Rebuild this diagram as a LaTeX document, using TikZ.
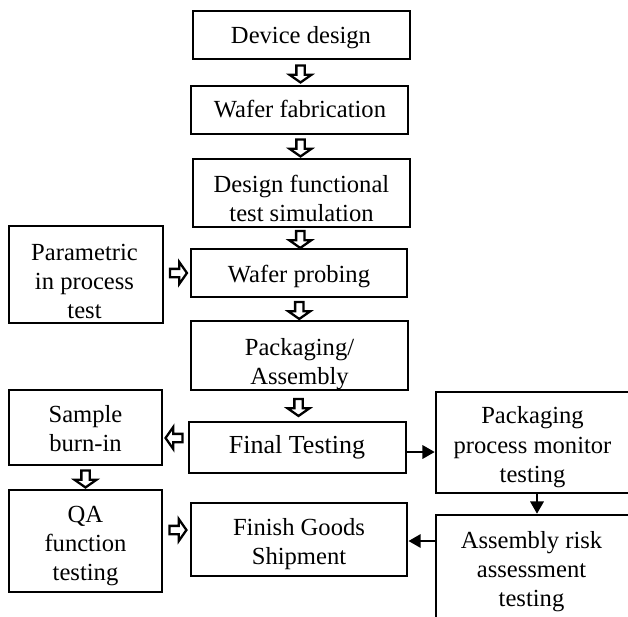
\documentclass[tikz,border=0pt]{standalone}
\usepackage{fontspec}
\setmainfont{Liberation Serif}
\usetikzlibrary{shapes.arrows,arrows.meta,calc}
\newcommand\fst{\rule{0pt}{10.5pt}}
\begin{document}
\begin{tikzpicture}[x=0.02cm,y=-0.02cm,
  frame/.style={draw,line width=1.6pt,rectangle,inner sep=0pt},
  sz/.style 2 args={minimum width=#1*0.02cm,minimum height=#2*0.02cm},
  txt/.style={align=center,inner sep=0pt,anchor=north,
    font=\fontsize{14}{16.7}\selectfont},
  barrow/.style={single arrow,draw,line width=1.3pt,fill=white,inner sep=0.06cm,
    minimum width=0.39cm,minimum height=0.34cm,single arrow head extend=0.137cm,
    single arrow tip angle=110},
  sarrow/.style={line width=1.5pt,-{Triangle[length=7pt,width=7.5pt]}}]
\useasboundingbox (0,0) rectangle (628,616);
% boxes
\node[frame,sz={217}{48}] (dd) at (301.5,35) {};
\node[frame,sz={217}{48}] (wf) at (299.5,110) {};
\node[frame,sz={217}{68}] (dfts) at (301.5,193) {};
\node[frame,sz={216}{48}] (wp) at (299,273) {};
\node[frame,sz={217}{69}] (pa) at (299.5,355.5) {};
\node[frame,sz={217}{51}] (ft) at (297.5,447.5) {};
\node[frame,sz={216}{73}] (fg) at (299,539.5) {};
\node[frame,sz={154}{97}] (pt) at (86,274.5) {};
\node[frame,sz={153}{75}] (sb) at (85.5,427.5) {};
\node[frame,sz={153}{102}] (qa) at (85.5,541) {};
\node[frame,line width=1.4pt,sz={204}{101}] (ppm) at (538,442.5) {};
\node[frame,line width=1.4pt,sz={204}{145}] (ara) at (538,587.5) {};
% texts
\node[txt] (ddT) at (301,24.8) {\fst Device design};
\node[txt] (wfT) at (300,98.5) {\fst Wafer fabrication};
\node[txt] (dftsT) at (301.5,173.2) {\fst Design functional\\test simulation};
\node[txt] (wpT) at (299,263.2) {\fst Wafer probing};
\node[txt] (paT) at (299.5,336.5) {\fst Packaging/\\Assembly};
\node[txt,font=\fontsize{14.8}{16.7}\selectfont] (ftT) at (297,434.5) {\fst Final Testing};
\node[txt] (fgT) at (299,516.5) {\fst Finish Goods\\Shipment};
\node[txt] (ptT) at (84.5,241.5) {\fst Parametric\\in process\\test};
\node[txt] (sbT) at (85.5,403.2) {\fst Sample\\burn-in};
\node[txt] (qaT) at (85.5,503.2) {\fst QA\\function\\testing};
\node[txt] (ppmT) at (532.5,405) {\fst Packaging\\process monitor\\testing};
\node[txt] (araT) at (531.5,529.5) {\fst Assembly risk\\assessment\\testing};
% block arrows
\node[barrow,rotate=-90] (a1) at ($(dd.south)!0.5!(wf.north)$) {};
\node[barrow,rotate=-90] (a2) at ($(wf.south)!0.5!(dfts.north)$) {};
\node[barrow,rotate=-90] (a3) at ($(dfts.south)!0.5!(wp.north)$) {};
\node[barrow,rotate=-90] (a4) at ($(wp.south)!0.5!(pa.north)$) {};
\node[barrow,rotate=-90] (a5) at ($(pa.south)!0.5!(ft.north)$) {};
\node[barrow,rotate=-90] (a6) at ($(sb.south)!0.5!(qa.north)$) {};
\node[barrow] (a7) at ($(pt.east |- wp)!0.5!(wp.west)$) {};
\node[barrow,rotate=180] (a8) at ($(sb.east |- 0,438)!0.5!(ft.west |- 0,438)$) {};
\node[barrow] (a9) at ($(qa.east |- 0,530)!0.5!(fg.west |- 0,530)$) {};
% solid arrows
\draw[sarrow] (ft.east |- 0,452) -- (ppm.west |- 0,452);
\draw[sarrow] (ppm.south -| 537,0) -- (ara.north -| 537,0);
\draw[sarrow] (ara.west |- 0,541) -- (fg.east |- 0,541);
\end{tikzpicture}
\end{document}
